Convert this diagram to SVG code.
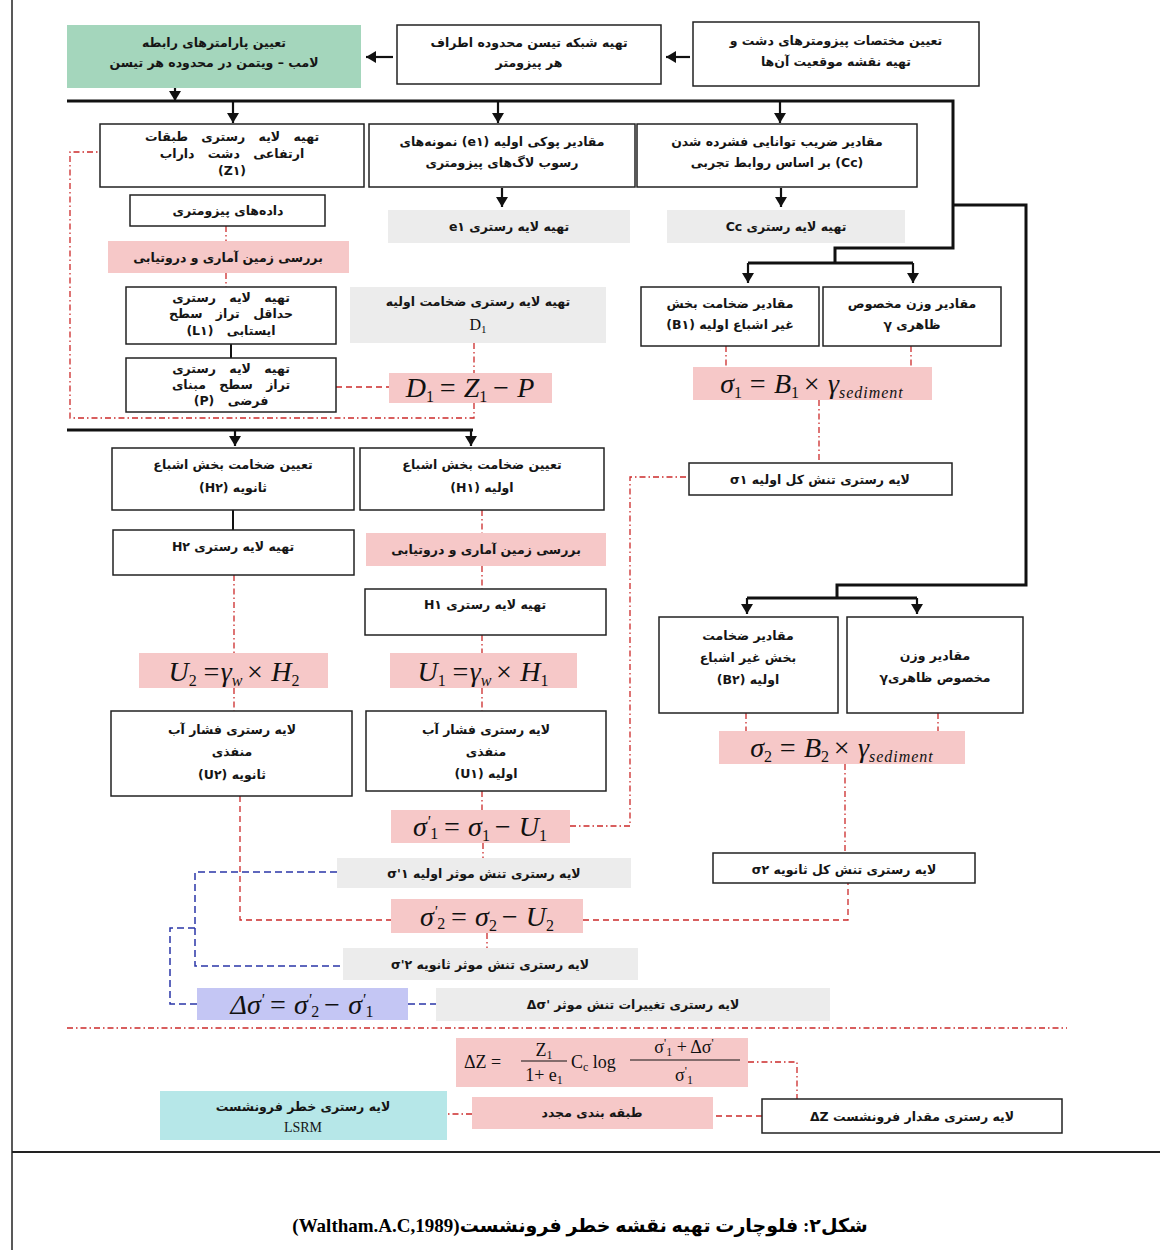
<svg xmlns="http://www.w3.org/2000/svg" width="1160" height="1250" viewBox="0 0 1160 1250">
<defs>
<marker id="ah" viewBox="0 0 10 12" refX="10" refY="6" markerWidth="10" markerHeight="12" markerUnits="userSpaceOnUse" orient="auto"><path d="M0,0 L10,6 L0,12 z" fill="#111"/></marker>
</defs>
<style>
.b{fill:#fff;stroke:#222;stroke-width:1.5}
.pk{fill:#f6c8c8}
.gy{fill:#ececec}
.gr{fill:#a4d6bc}
.cy{fill:#b6e7e8}
.lv{fill:#c4c6f4}
.t{font-family:"DejaVu Sans",sans-serif;font-size:12.5px;font-weight:bold;fill:#151515;text-anchor:middle;direction:rtl}
.sp{word-spacing:9px}
.f{font-family:"Liberation Serif",serif;font-style:italic;font-size:28px;fill:#111;text-anchor:middle}
.fz{font-family:"Liberation Serif",serif;font-size:18px;fill:#111}
.s{font-size:16px;font-style:normal}
.thick{fill:none;stroke:#111;stroke-width:3}
.arr{fill:none;stroke:#111;stroke-width:2.2;marker-end:url(#ah)}
.rdd{fill:none;stroke:#cc2a2a;stroke-width:1.3;stroke-dasharray:6 3 1.5 3}
.rd{fill:none;stroke:#cc2a2a;stroke-width:1.3;stroke-dasharray:6 4}
.bl{fill:none;stroke:#2a36a8;stroke-width:1.5;stroke-dasharray:7 4}
.sl{fill:none;stroke:#111;stroke-width:2}
.cap{font-family:"Liberation Serif","DejaVu Sans",serif;font-size:19px;font-weight:bold;fill:#000;text-anchor:middle;direction:rtl}
</style>

<g id="frame">
<line x1="12" y1="0" x2="12" y2="1250" stroke="#222" stroke-width="1.5"/>
<line x1="12" y1="1152" x2="1160" y2="1152" stroke="#222" stroke-width="2"/>
</g>

<g id="connectors">
<path class="arr" d="M690,57 H666"/>
<path class="arr" d="M393,57 H366"/>
<path class="arr" d="M175,88 V101"/>
<path class="thick" d="M67,101 H953 V248 H835 V263"/>
<path class="thick" d="M748,263 H913"/>
<path class="thick" d="M953,205 H1026 V585 H837 V598"/>
<path class="thick" d="M747,598 H917"/>
<path class="arr" d="M233,101 V123"/>
<path class="arr" d="M498,101 V123"/>
<path class="arr" d="M780,101 V123"/>
<path class="arr" d="M502,188 V207"/>
<path class="arr" d="M781,188 V207"/>
<path class="arr" d="M748,263 V283"/>
<path class="arr" d="M913,263 V283"/>
<path class="arr" d="M747,598 V614"/>
<path class="arr" d="M917,598 V614"/>
<path class="thick" d="M67,430 H473"/>
<path class="arr" d="M235,430 V446"/>
<path class="arr" d="M471,430 V446"/>
<path class="sl" d="M231,344 V358"/>
<path class="sl" d="M233,510 V530"/>
<path class="rdd" d="M226,226 V241"/>
<path class="rdd" d="M226,273 V287"/>
<path class="rd" d="M336,387 H389"/>
<path class="rdd" d="M474,343 V373"/>
<path class="rdd" d="M474,403 V418 H70 V152 H100"/>
<path class="rdd" d="M234,575 V653"/>
<path class="rdd" d="M482,510 V533"/>
<path class="rdd" d="M482,566 V589"/>
<path class="rdd" d="M482,635 V653"/>
<path class="rdd" d="M234,688 V711"/>
<path class="rdd" d="M482,688 V711"/>
<path class="rd" d="M240,796 V920 H391"/>
<path class="rdd" d="M482,791 V810"/>
<path class="rdd" d="M570,826 H630 V477 H689"/>
<path class="rdd" d="M483,843 V858"/>
<path class="rd" d="M583,920 H848 V883"/>
<path class="rdd" d="M487,933 V948"/>
<path class="bl" d="M337,872 H195 V966 H343"/>
<path class="bl" d="M195,928 H170 V1004 H197"/>
<path class="bl" d="M408,1004 H436"/>
<path class="rdd" d="M67,1028 H1067"/>
<path class="rdd" d="M748,1062 H797 V1099"/>
<path class="rd" d="M762,1116 H713"/>
<path class="rdd" d="M472,1114 H447"/>
<path class="rdd" d="M726,346 V367"/>
<path class="rdd" d="M911,346 V367"/>
<path class="rdd" d="M819,400 V463"/>
<path class="rdd" d="M746,713 V731"/>
<path class="rdd" d="M938,713 V731"/>
<path class="rdd" d="M845,764 V853"/>
</g>

<g id="n-lamb">
<rect class="gr" x="67" y="25" width="294" height="63"/>
<text class="t" x="214" y="47">تعیین پارامترهای رابطه</text>
<text class="t" x="214" y="67">لامب – ویتمن در محدوده هر تیسن</text>
</g>
<g id="n-thiessen">
<rect class="b" x="397" y="25" width="264" height="59"/>
<text class="t" x="529" y="47">تهیه شبکه تیسن محدوده اطراف</text>
<text class="t" x="529" y="67">هر پیزومتر</text>
</g>
<g id="n-coords">
<rect class="b" x="693" y="22" width="286" height="64"/>
<text class="t" x="836" y="45">تعیین مختصات پیزومترهای دشت و</text>
<text class="t" x="836" y="66">تهیه نقشه موقعیت آن‌ها</text>
</g>

<g id="n-z1">
<rect class="b" x="100" y="124" width="264" height="63"/>
<text class="t sp" x="232" y="141">تهیه لایه رستری طبقات</text>
<text class="t sp" x="232" y="158">ارتفاعی دشت داراب</text>
<text class="t" x="232" y="175">(Z۱)</text>
</g>
<g id="n-e1">
<rect class="b" x="369" y="124" width="266" height="63"/>
<text class="t" x="502" y="146">مقادیر پوکی اولیه (e۱) نمونه‌های</text>
<text class="t" x="502" y="167">رسوب لاگ‌های پیزومتری</text>
</g>
<g id="n-cc">
<rect class="b" x="637" y="124" width="280" height="63"/>
<text class="t" x="777" y="146">مقادیر ضریب توانایی فشرده شدن</text>
<text class="t" x="777" y="167">(Cc) بر اساس روابط تجربی</text>
</g>

<g id="n-piezo">
<rect class="b" x="130" y="195" width="195" height="31"/>
<text class="t" x="228" y="215">داده‌های پیزومتری</text>
</g>
<g id="n-e1r">
<rect class="gy" x="388" y="210" width="242" height="33"/>
<text class="t" x="509" y="231">تهیه لایه رستری e۱</text>
</g>
<g id="n-ccr">
<rect class="gy" x="667" y="210" width="238" height="33"/>
<text class="t" x="786" y="231">تهیه لایه رستری Cc</text>
</g>
<g id="n-krig1">
<rect class="pk" x="108" y="241" width="241" height="32"/>
<text class="t" x="228" y="262">بررسی زمین آماری و دروتیابی</text>
</g>

<g id="n-l1">
<rect class="b" x="126" y="287" width="210" height="57"/>
<text class="t sp" x="231" y="302">تهیه لایه رستری</text>
<text class="t sp" x="231" y="318">حداقل تراز سطح</text>
<text class="t sp" x="231" y="335">ایستابی (L۱)</text>
</g>
<g id="n-p">
<rect class="b" x="126" y="358" width="210" height="54"/>
<text class="t sp" x="231" y="373">تهیه لایه رستری</text>
<text class="t sp" x="231" y="389">تراز سطح مبنای</text>
<text class="t sp" x="231" y="405">فرضی (P)</text>
</g>
<g id="n-d1r">
<rect class="gy" x="350" y="287" width="256" height="56"/>
<text class="t" x="478" y="306">تهیه لایه رستری ضخامت اولیه</text>
<text x="478" y="330" font-family="Liberation Serif,serif" font-size="16" text-anchor="middle" fill="#111">D<tspan font-size="11" dy="3">1</tspan></text>
</g>
<g id="n-d1f">
<rect class="pk" x="389" y="373" width="163" height="30"/>
<text class="f" x="470" y="397">D<tspan class="s" dy="5">1</tspan><tspan dy="-5" dx="4">= Z</tspan><tspan class="s" dy="5">1</tspan><tspan dy="-5" dx="4">− P</tspan></text>
</g>

<g id="n-b1">
<rect class="b" x="641" y="287" width="178" height="59"/>
<text class="t" x="730" y="308">مقادیر ضخامت بخش</text>
<text class="t" x="730" y="329">غیر اشباع اولیه (B۱)</text>
</g>
<g id="n-g1">
<rect class="b" x="823" y="287" width="178" height="59"/>
<text class="t" x="912" y="308">مقادیر وزن مخصوص</text>
<text class="t" x="912" y="329">ظاهری γ</text>
</g>
<g id="n-s1f">
<rect class="pk" x="693" y="367" width="239" height="33"/>
<text class="f" x="812" y="393">σ<tspan class="s" dy="5">1</tspan><tspan dy="-5" dx="6">= B</tspan><tspan class="s" dy="5">1</tspan><tspan dy="-5" dx="3">× γ</tspan><tspan font-size="16" dy="5" letter-spacing="1">sediment</tspan></text>
</g>
<g id="n-s1r">
<rect class="b" x="689" y="463" width="263" height="32"/>
<text class="t" x="820" y="484">لایه رستری تنش کل اولیه σ۱</text>
</g>

<g id="n-h2">
<rect class="b" x="112" y="448" width="242" height="62"/>
<text class="t" x="233" y="469">تعیین ضخامت بخش اشباع</text>
<text class="t" x="233" y="492">ثانویه (H۲)</text>
</g>
<g id="n-h1">
<rect class="b" x="360" y="448" width="244" height="62"/>
<text class="t" x="482" y="469">تعیین ضخامت بخش اشباع</text>
<text class="t" x="482" y="492">اولیه (H۱)</text>
</g>
<g id="n-h2r">
<rect class="b" x="113" y="530" width="241" height="45"/>
<text class="t" x="233" y="551">تهیه لایه رستری H۲</text>
</g>
<g id="n-krig2">
<rect class="pk" x="366" y="533" width="240" height="33"/>
<text class="t" x="486" y="554">بررسی زمین آماری و دروتیابی</text>
</g>
<g id="n-h1r">
<rect class="b" x="365" y="589" width="241" height="46"/>
<text class="t" x="485" y="609">تهیه لایه رستری H۱</text>
</g>
<g id="n-u2f">
<rect class="pk" x="139" y="653" width="189" height="35"/>
<text class="f" x="234" y="681">U<tspan class="s" dy="5">2</tspan><tspan dy="-5" dx="5">=γ</tspan><tspan font-size="16" dy="5">w</tspan><tspan dy="-5" dx="3">× H</tspan><tspan class="s" dy="5">2</tspan></text>
</g>
<g id="n-u1f">
<rect class="pk" x="390" y="653" width="187" height="35"/>
<text class="f" x="483" y="681">U<tspan class="s" dy="5">1</tspan><tspan dy="-5" dx="5">=γ</tspan><tspan font-size="16" dy="5">w</tspan><tspan dy="-5" dx="3">× H</tspan><tspan class="s" dy="5">1</tspan></text>
</g>
<g id="n-u2r">
<rect class="b" x="111" y="711" width="241" height="85"/>
<text class="t" x="232" y="734">لایه رستری فشار آب</text>
<text class="t" x="232" y="756">منفذی</text>
<text class="t" x="232" y="779">ثانویه (U۲)</text>
</g>
<g id="n-u1r">
<rect class="b" x="366" y="711" width="240" height="80"/>
<text class="t" x="486" y="734">لایه رستری فشار آب</text>
<text class="t" x="486" y="756">منفذی</text>
<text class="t" x="486" y="778">اولیه (U۱)</text>
</g>
<g id="n-se1f">
<rect class="pk" x="391" y="810" width="179" height="33"/>
<text class="f" x="480" y="836" font-size="26">σ<tspan font-size="16" dy="-9">'</tspan><tspan class="s" dy="12">1</tspan><tspan dy="-3" dx="4">= σ</tspan><tspan class="s" dy="5">1</tspan><tspan dy="-5" dx="3">− U</tspan><tspan class="s" dy="5">1</tspan></text>
</g>
<g id="n-se1r">
<rect class="gy" x="337" y="858" width="294" height="30"/>
<text class="t" x="484" y="878">لایه رستری تنش موثر اولیه σ'۱</text>
</g>
<g id="n-se2f">
<rect class="pk" x="391" y="899" width="192" height="34"/>
<text class="f" x="487" y="926" font-size="26">σ<tspan font-size="16" dy="-9">'</tspan><tspan class="s" dy="12">2</tspan><tspan dy="-3" dx="4">= σ</tspan><tspan class="s" dy="5">2</tspan><tspan dy="-5" dx="3">− U</tspan><tspan class="s" dy="5">2</tspan></text>
</g>
<g id="n-se2r">
<rect class="gy" x="343" y="948" width="295" height="32"/>
<text class="t" x="490" y="969">لایه رستری تنش موثر ثانویه σ'۲</text>
</g>
<g id="n-dsf">
<rect class="lv" x="197" y="988" width="211" height="32"/>
<text class="f" x="302" y="1014" font-size="26">Δσ<tspan font-size="16" dy="-9">'</tspan><tspan dy="9" dx="4">= σ</tspan><tspan font-size="16" dy="-9">'</tspan><tspan class="s" dy="12">2</tspan><tspan dy="-3" dx="3">− σ</tspan><tspan font-size="16" dy="-9">'</tspan><tspan class="s" dy="12">1</tspan></text>
</g>
<g id="n-dsr">
<rect class="gy" x="436" y="988" width="394" height="33"/>
<text class="t" x="633" y="1009">لایه رستری تغییرات تنش موثر Δσ'&#x200E;</text>
</g>

<g id="n-b2">
<rect class="b" x="659" y="617" width="179" height="96"/>
<text class="t" x="748" y="640">مقادیر ضخامت</text>
<text class="t" x="748" y="662">بخش غیر اشباع</text>
<text class="t" x="748" y="684">اولیه (B۲)</text>
</g>
<g id="n-g2">
<rect class="b" x="847" y="617" width="176" height="96"/>
<text class="t" x="935" y="660">مقادیر وزن</text>
<text class="t" x="935" y="682">مخصوص ظاهریγ</text>
</g>
<g id="n-s2f">
<rect class="pk" x="719" y="731" width="246" height="33"/>
<text class="f" x="842" y="757">σ<tspan class="s" dy="5">2</tspan><tspan dy="-5" dx="6">= B</tspan><tspan class="s" dy="5">2</tspan><tspan dy="-5" dx="3">× γ</tspan><tspan font-size="16" dy="5" letter-spacing="1">sediment</tspan></text>
</g>
<g id="n-s2r">
<rect class="b" x="713" y="853" width="262" height="30"/>
<text class="t" x="844" y="874">لایه رستری تنش کل ثانویه σ۲</text>
</g>

<g id="n-dzf">
<rect class="pk" x="456" y="1038" width="292" height="49"/>
<text class="fz" x="464" y="1068">ΔZ =</text>
<text class="fz" x="544" y="1056" text-anchor="middle">Z<tspan font-size="12" dy="3">1</tspan></text>
<line x1="521" y1="1061" x2="567" y2="1061" stroke="#111" stroke-width="1"/>
<text class="fz" x="544" y="1081" text-anchor="middle">1+ e<tspan font-size="12" dy="3">1</tspan></text>
<text class="fz" x="571" y="1068">C<tspan font-size="12" dy="3">c</tspan><tspan dy="-3"> log</tspan></text>
<text class="fz" x="684" y="1053" text-anchor="middle">σ<tspan font-size="12" dy="-6">'</tspan><tspan font-size="12" dy="9">1</tspan><tspan dy="-3"> + Δσ</tspan><tspan font-size="12" dy="-6">'</tspan></text>
<line x1="630" y1="1060" x2="740" y2="1060" stroke="#111" stroke-width="1"/>
<text class="fz" x="684" y="1081" text-anchor="middle">σ<tspan font-size="12" dy="-6">'</tspan><tspan font-size="12" dy="9">1</tspan></text>
</g>
<g id="n-dzr">
<rect class="b" x="762" y="1099" width="300" height="34"/>
<text class="t" x="912" y="1121">لایه رستری مقدار فرونشست ΔZ</text>
</g>
<g id="n-reclass">
<rect class="pk" x="472" y="1097" width="241" height="32"/>
<text class="t" x="592" y="1117">طبقه بندی مجدد</text>
</g>
<g id="n-lsrm">
<rect class="cy" x="160" y="1091" width="287" height="49"/>
<text class="t" x="303" y="1111">لایه رستری خطر فرونشست</text>
<text x="303" y="1132" font-family="Liberation Serif,serif" font-size="14" text-anchor="middle" fill="#151515">LSRM</text>
</g>

<text class="cap" x="580" y="1232">شکل۲: فلوچارت تهیه نقشه خطر فرونشست(Waltham.A.C,1989)</text>
</svg>
